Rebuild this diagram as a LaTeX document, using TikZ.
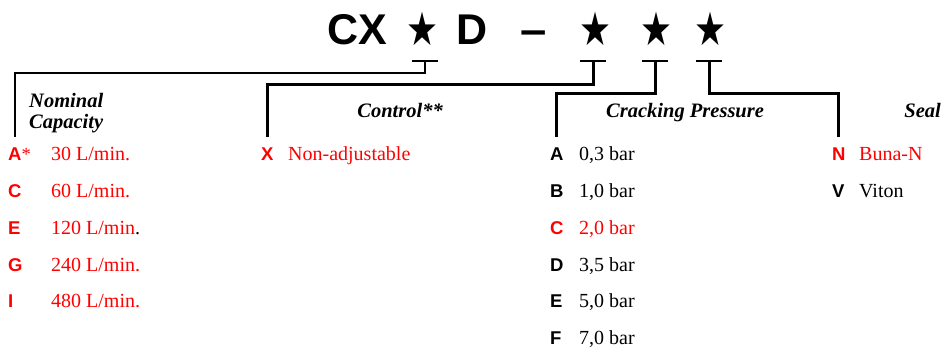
\documentclass[tikz,border=0pt]{standalone}
\usepackage{fontspec}
\setmainfont{Liberation Serif}
\setsansfont{Liberation Sans}
\newfontfamily\starfont{DejaVu Sans}
\usetikzlibrary{calc,positioning}
\definecolor{codered}{RGB}{255,0,0}

\begin{document}
\begin{tikzpicture}[x=1pt, y=-1pt,
  code/.style={font=\sffamily\bfseries\fontsize{43}{46}\selectfont,
    inner sep=0pt, anchor=base},
  wildcard/.style={font=\starfont\fontsize{42}{46}\selectfont,
    inner sep=0pt, anchor=center},
  letter/.style={font=\sffamily\bfseries\fontsize{18.5}{22}\selectfont,
    inner sep=0pt, anchor=base west},
  item/.style={font=\fontsize{20}{22}\selectfont, inner sep=0pt,
    anchor=base west},
  heading/.style={font=\bfseries\itshape\fontsize{20.5}{20.5}\selectfont,
    inner sep=0pt, align=left},
  chosen/.style={text=codered},
  tick/.style={line width=2pt},
  lead/.style={line width=3pt, shorten >=10pt},
]
  \useasboundingbox (0,0) rectangle (943,349);

  % === ORDER CODE ===
  \node[code] (cx)   at (357.5,44) {CX};
  \node[code] (dd)   at (472,44) {D};
  \node[code] (dash) at (533.5,44) {\scalebox{1.1}[1]{–}};
  \node[wildcard] (s1) at (422,29) {\scalebox{0.85}[1.1]{★}};
  \node[wildcard] (s2) at (595,29) {\scalebox{0.85}[1.1]{★}};
  \node[wildcard] (s3) at (656,29) {\scalebox{0.85}[1.1]{★}};
  \node[wildcard] (s4) at (710,29) {\scalebox{0.85}[1.1]{★}};

  \coordinate (t1) at (425,61);
  \coordinate (t2) at (593,61);
  \coordinate (t3) at (655,61);
  \coordinate (t4) at (709,61);
  \draw[tick] ($(t1)+(-13,0)$) -- ($(t1)+(13,0)$);
  \draw[tick] ($(t2)+(-13,0)$) -- ($(t2)+(13,0)$);
  \draw[tick] ($(t3)+(-13,0)$) -- ($(t3)+(13,0)$);
  \draw[tick] ($(t4)+(-13,0)$) -- ($(t4)+(13,0)$);

  % === Nominal Capacity ===
  \node[heading, anchor=base west] (hcap) at (29,128) {Nominal\\Capacity};
  \node[letter, chosen] (capA) at (8,160) {A\rlap{\rmfamily\mdseries *}};
  \node[letter, chosen] (capC) at (8,197) {C};
  \node[letter, chosen] (capE) at (8,234) {E};
  \node[letter, chosen] (capG) at (8,271) {G};
  \node[letter, chosen] (capI) at (8,307) {I};
  \node[item, chosen] at (51,160) {30 L/min.};
  \node[item, chosen] at (51,197) {60 L/min.};
  \node[item, chosen] at (51,234) {120 L/min\textcolor{black}{.}};
  \node[item, chosen] at (51,271) {240 L/min.};
  \node[item, chosen] at (51,307) {480 L/min.};

  % === Control ===
  \node[heading, anchor=base east] (hctl) at (443,117) {Control**};
  \node[letter, chosen] (ctlX) at (261,160) {X};
  \node[item, chosen] at (288,160) {Non-adjustable};

  % === Cracking Pressure ===
  \node[heading, anchor=base west] (hcrk) at (606,117) {Cracking Pressure};
  \node[letter] (crA) at (550,160) {A};
  \node[letter] (crB) at (550,197) {B};
  \node[letter, chosen] (crC) at (550,234) {C};
  \node[letter] (crD) at (550,271) {D};
  \node[letter] (crE) at (550,307) {E};
  \node[letter] (crF) at (550,344) {F};
  \node[item] at (579,160) {0,3 bar};
  \node[item] at (579,197) {1,0 bar};
  \node[item, chosen] at (579,234) {2,0 bar};
  \node[item] at (579,271) {3,5 bar};
  \node[item] at (579,307) {5,0 bar};
  \node[item] at (579,344) {7,0 bar};

  % === Seal ===
  \node[heading, anchor=base east] (hseal) at (941,117) {Seal};
  \node[letter, chosen] (sealN) at (832,160) {N};
  \node[letter] (sealV) at (832,197) {V};
  \node[item, chosen] at (859,160) {Buna-N};
  \node[item] at (859,197) {Viton};

  % === Leaders from the code to each column ===
  \draw[lead, line width=2.3pt] (t1) -- ++(0,12) -| (capA.north);
  \draw[lead] (t2) -- ++(0,23) -| (ctlX.north);
  \draw[lead] (t3) -- ++(0,32) -| (crA.north);
  \draw[lead] (t4) -- ++(0,32) -| (sealN.north);

\end{tikzpicture}
\end{document}
